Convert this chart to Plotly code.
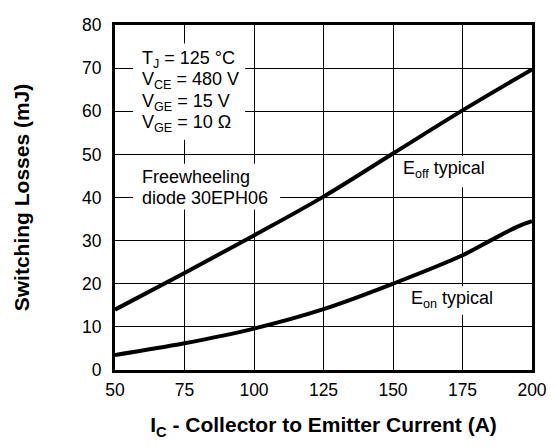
import plotly.graph_objects as go

# Data
ic_off = [50, 75, 100, 125, 150, 175, 200]
e_off = [14.0, 22.5, 31.2, 40.2, 50.2, 60.2, 69.7]

ic_on = [50, 75, 100, 125, 150, 175, 185, 195, 200]
e_on = [3.5, 6.2, 9.6, 14.1, 20.0, 26.6, 30.0, 33.3, 34.5]

x_ticks = [50, 75, 100, 125, 150, 175, 200]
y_ticks = [0, 10, 20, 30, 40, 50, 60, 70, 80]

cond_lines = ["T<sub>J</sub> = 125 °C", "V<sub>CE</sub> = 480 V",
              "V<sub>GE</sub> = 15 V", "V<sub>GE</sub> = 10 Ω"]
diode_lines = ["Freewheeling", "diode 30EPH06"]

FONT = "Liberation Sans, Arial, Helvetica, sans-serif"

fig = go.Figure()
fig.add_trace(go.Scatter(x=ic_off, y=e_off, mode="lines",
                         line=dict(color="black", width=4, shape="spline"),
                         showlegend=False, hoverinfo="skip"))
fig.add_trace(go.Scatter(x=ic_on, y=e_on, mode="lines",
                         line=dict(color="black", width=4, shape="spline"),
                         showlegend=False, hoverinfo="skip"))

# white masks behind the labels (hide the grid like the reference)
masks = [(56.5, 96.8, 53.4, 75.7), (56.5, 109.4, 37.2, 47.8),
         (150.7, 184.9, 42.4, 49.6), (152.5, 188.5, 12.8, 19.4)]
for x0, x1, y0, y1 in masks:
    fig.add_shape(type="rect", xref="x", yref="y", x0=x0, x1=x1, y0=y0, y1=y1,
                  fillcolor="white", line=dict(width=0), layer="between")

ann_font = dict(family=FONT, size=18, color="black")
for txt, yv in zip(cond_lines, [71.9, 67.1, 62.1, 57.1]):
    fig.add_annotation(x=59.0, y=yv, xref="x", yref="y", xanchor="left",
                       yanchor="middle", text=txt, showarrow=False, font=ann_font)
for txt, yv in zip(diode_lines, [44.8, 40.0]):
    fig.add_annotation(x=59.0, y=yv, xref="x", yref="y", xanchor="left",
                       yanchor="middle", text=txt, showarrow=False, font=ann_font)
fig.add_annotation(x=152.8, y=46.5, xref="x", yref="y", xanchor="left",
                   yanchor="middle", text="E<sub>off</sub> typical",
                   showarrow=False, font=ann_font)
fig.add_annotation(x=155.6, y=16.4, xref="x", yref="y", xanchor="left",
                   yanchor="middle", text="E<sub>on</sub> typical",
                   showarrow=False, font=ann_font)

fig.update_layout(
    width=556, height=447,
    margin=dict(l=107, r=32, t=7, b=85),
    paper_bgcolor="white", plot_bgcolor="white",
    font=dict(family=FONT, size=17, color="black"),
)
fig.update_xaxes(
    range=[50, 200], tickvals=x_ticks, ticktext=[str(v) for v in x_ticks],
    showgrid=True, gridcolor="black", gridwidth=1,
    showline=True, linecolor="black", linewidth=3, mirror=True,
    ticks="", ticklabelstandoff=2, zeroline=False,
    tickfont=dict(family=FONT, size=17.5),
    title=dict(text="<b>I<sub>C</sub> - Collector to Emitter Current (A)</b>",
               font=dict(family=FONT, size=21), standoff=19),
)
fig.update_yaxes(
    range=[0, 80], tickvals=y_ticks, ticktext=[str(v) for v in y_ticks],
    showgrid=True, gridcolor="black", gridwidth=1,
    showline=True, linecolor="black", linewidth=3, mirror=True,
    ticks="", ticklabelstandoff=7, zeroline=False,
    tickfont=dict(family=FONT, size=17.5),
    title=dict(text="<b>Switching Losses (mJ)</b>",
               font=dict(family=FONT, size=21), standoff=47),
)

fig.write_html("out.html")
